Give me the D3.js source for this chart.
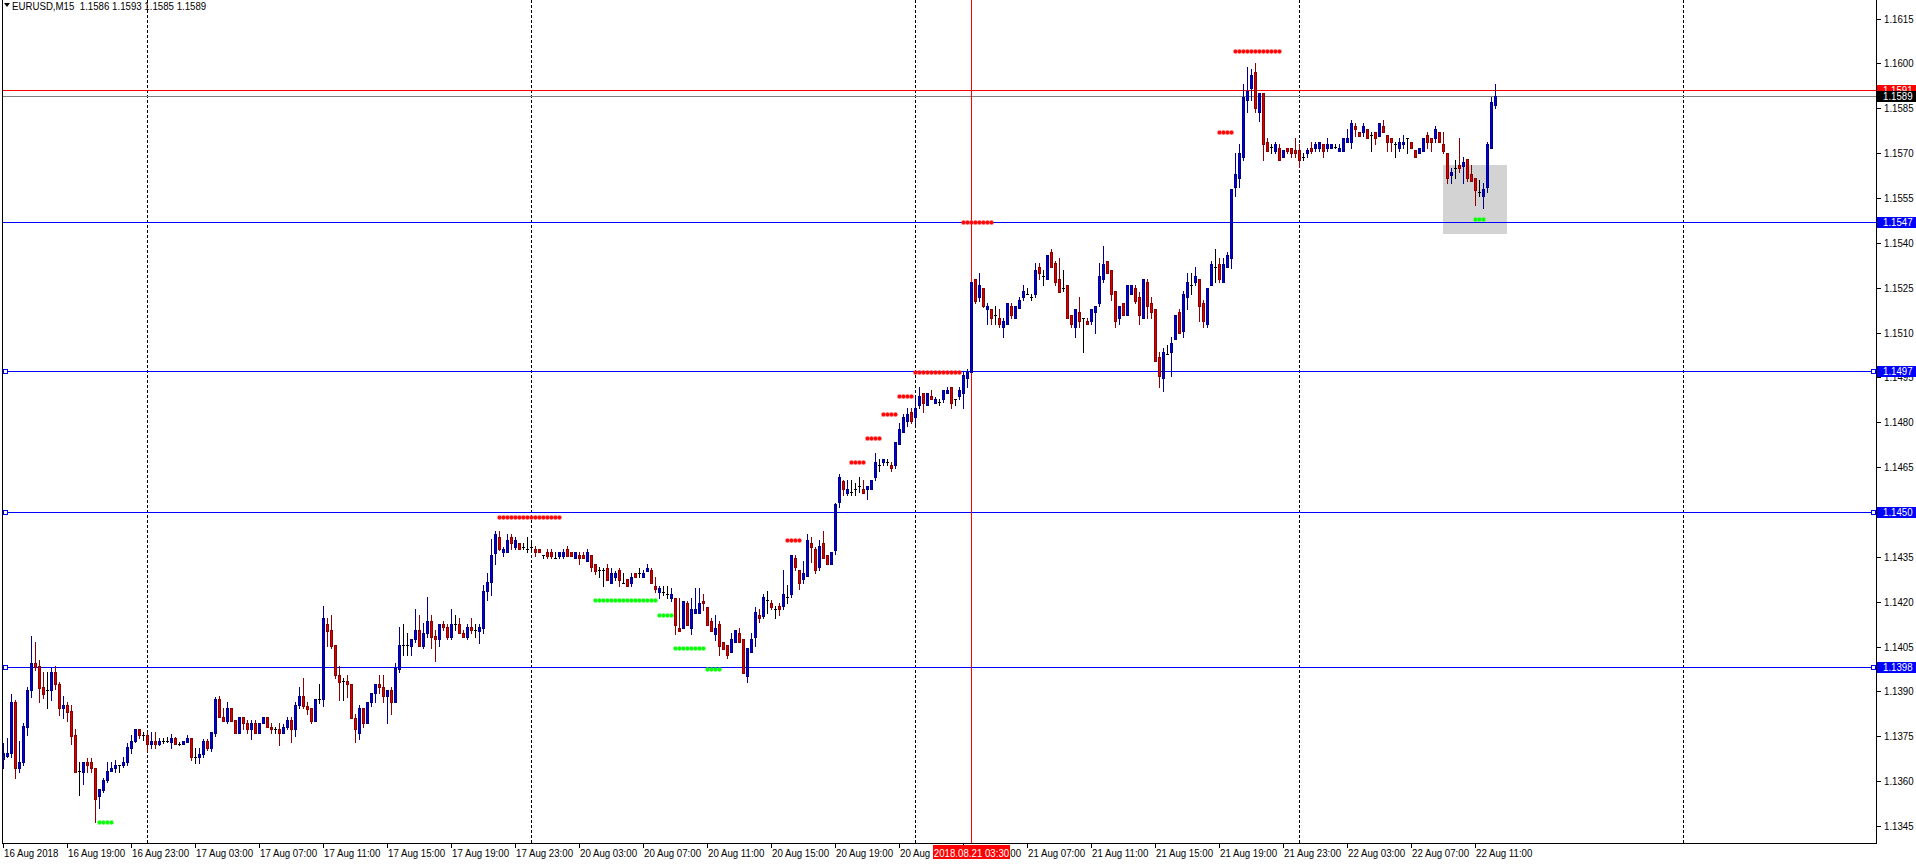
<!DOCTYPE html>
<html><head><meta charset="utf-8"><title>EURUSD,M15</title>
<script src="https://cdn.jsdelivr.net/npm/d3@7/dist/d3.min.js"></script>
<style>
html,body{margin:0;padding:0;background:#fff;overflow:hidden;}
svg{display:block;}
text{font-family:"Liberation Sans",Arial,sans-serif;font-size:11px;}
</style></head><body>
<svg id="chart" width="1916" height="864"></svg>
<script>
// ---------------- DATA ----------------
const symbolTitle = "EURUSD,M15";
const lastQuote = ["1.1586", "1.1593", "1.1585", "1.1589"];
const firstSlot = "2018-08-16 15:00";
const endSlotExclusive = "2018-08-23 12:15";

const openP = [
1.13673,1.13684,1.13693,1.13866,1.13643,1.13663,1.13782,1.13905,1.13994,1.13985,
1.13915,1.13905,1.13905,1.13966,1.13924,1.13843,1.13854,1.13834,1.13754,1.13634,
1.13631,1.13665,1.13665,1.13643,1.13551,1.13570,1.13604,1.13634,1.13643,1.13654,
1.13654,1.13663,1.13712,1.13734,1.13774,1.13754,1.13754,1.13723,1.13734,1.13723,
1.13734,1.13734,1.13732,1.13743,1.13723,1.13723,1.13732,1.13743,1.13680,1.13680,
1.13690,1.13734,1.13712,1.13762,1.13873,1.13813,1.13802,1.13843,1.13804,1.13762,
1.13813,1.13793,1.13773,1.13793,1.13762,1.13793,1.13813,1.13782,1.13773,1.13773,
1.13762,1.13782,1.13804,1.13773,1.13854,1.13885,1.13852,1.13843,1.13802,1.13873,
1.13873,1.14124,1.14105,1.14055,1.13955,1.13935,1.13935,1.13924,1.13812,1.13762,
1.13843,1.13793,1.13863,1.13894,1.13925,1.13914,1.13885,1.13905,1.13863,1.13975,
1.14055,1.14055,1.14053,1.14075,1.14105,1.14053,1.14094,1.14135,1.14085,1.14074,
1.14125,1.14114,1.14083,1.14125,1.14125,1.14094,1.14083,1.14114,1.14105,1.14103,
1.14113,1.14236,1.14265,1.14364,1.14416,1.14365,1.14365,1.14416,1.14384,1.14395,
1.14384,1.14376,1.14384,1.14376,1.14376,1.14356,1.14365,1.14365,1.14345,1.14354,
1.14354,1.14376,1.14365,1.14345,1.14356,1.14356,1.14336,1.14356,1.14325,1.14306,
1.14305,1.14314,1.14264,1.14284,1.14305,1.14264,1.14276,1.14264,1.14295,1.14295,
1.14284,1.14303,1.14305,1.14254,1.14234,1.14234,1.14225,1.14213,1.14213,1.14113,
1.14113,1.14194,1.14113,1.14163,1.14163,1.14203,1.14183,1.14135,1.14092,1.14124,
1.14064,1.14055,1.14033,1.14064,1.14094,1.14074,1.13953,1.14033,1.14083,1.14155,
1.14152,1.14205,1.14194,1.14174,1.14185,1.14185,1.14216,1.14225,1.14345,1.14306,
1.14275,1.14286,1.14395,1.14375,1.14315,1.14395,1.14356,1.14326,1.14373,1.14534,
1.14605,1.14564,1.14568,1.14576,1.14587,1.14576,1.14576,1.14576,1.14616,1.14657,
1.14666,1.14666,1.14657,1.14657,1.14727,1.14766,1.14805,1.14835,1.14816,1.14857,
1.14897,1.14857,1.14888,1.14865,1.14869,1.14877,1.14897,1.14917,1.14877,1.14888,
1.14897,1.14947,1.14969,1.15278,1.15218,1.15248,1.15177,1.15177,1.15159,1.15148,
1.15117,1.15127,1.15189,1.15148,1.15181,1.15218,1.15228,1.15220,1.15229,1.15320,
1.15289,1.15278,1.15370,1.15331,1.15278,1.15248,1.15259,1.15159,1.15117,1.15169,
1.15148,1.15139,1.15139,1.15169,1.15198,1.15278,1.15339,1.15309,1.15239,1.15148,
1.15198,1.15159,1.15228,1.15248,1.15220,1.15148,1.15268,1.15198,1.15177,1.15017,
1.14947,1.15028,1.15036,1.15077,1.15169,1.15106,1.15218,1.15259,1.15268,1.15278,
1.15198,1.15127,1.15259,1.15320,1.15329,1.15268,1.15318,1.15348,1.15588,1.15618,
1.15688,1.15877,1.15919,1.15970,1.15838,1.15900,1.15738,1.15721,1.15707,1.15718,
1.15688,1.15718,1.15718,1.15710,1.15710,1.15688,1.15699,1.15718,1.15718,1.15718,
1.15729,1.15718,1.15718,1.15721,1.15707,1.15707,1.15738,1.15738,1.15790,1.15769,
1.15769,1.15779,1.15760,1.15769,1.15758,1.15790,1.15760,1.15749,1.15729,1.15718,
1.15729,1.15749,1.15738,1.15710,1.15699,1.15707,1.15760,1.15749,1.15749,1.15769,
1.15729,1.15699,1.15627,1.15649,1.15660,1.15658,1.15679,1.15629,1.15618,1.15569,
1.15557,1.15588,1.15718,1.15860];

const highP = [
1.13726,1.13743,1.13893,1.13871,1.13734,1.13793,1.13916,1.14085,1.14066,1.14005,
1.13966,1.13966,1.13977,1.13985,1.13932,1.13885,1.13866,1.13854,1.13774,1.13665,
1.13665,1.13676,1.13676,1.13643,1.13574,1.13609,1.13665,1.13665,1.13670,1.13654,
1.13682,1.13726,1.13754,1.13774,1.13774,1.13765,1.13765,1.13765,1.13765,1.13743,
1.13743,1.13748,1.13756,1.13748,1.13732,1.13734,1.13754,1.13743,1.13712,1.13712,
1.13740,1.13740,1.13764,1.13882,1.13885,1.13843,1.13866,1.13843,1.13804,1.13813,
1.13813,1.13804,1.13804,1.13804,1.13793,1.13813,1.13813,1.13793,1.13782,1.13793,
1.13790,1.13813,1.13813,1.13863,1.13914,1.13945,1.13863,1.13843,1.13874,1.13925,
1.14186,1.14147,1.14155,1.14055,1.13985,1.13944,1.13955,1.13924,1.13823,1.13854,
1.13843,1.13863,1.13894,1.13925,1.13955,1.13955,1.13905,1.13914,1.13994,1.14114,
1.14124,1.14094,1.14075,1.14176,1.14155,1.14128,1.14217,1.14155,1.14105,1.14125,
1.14135,1.14125,1.14176,1.14155,1.14144,1.14105,1.14125,1.14144,1.14125,1.14125,
1.14256,1.14295,1.14410,1.14436,1.14436,1.14384,1.14426,1.14426,1.14416,1.14395,
1.14395,1.14416,1.14395,1.14386,1.14376,1.14356,1.14376,1.14376,1.14365,1.14365,
1.14376,1.14386,1.14365,1.14365,1.14365,1.14365,1.14376,1.14356,1.14325,1.14315,
1.14314,1.14325,1.14314,1.14303,1.14314,1.14295,1.14276,1.14295,1.14295,1.14314,
1.14305,1.14325,1.14314,1.14284,1.14254,1.14254,1.14254,1.14245,1.14213,1.14211,
1.14203,1.14203,1.14213,1.14245,1.14245,1.14225,1.14183,1.14144,1.14155,1.14135,
1.14064,1.14055,1.14094,1.14104,1.14113,1.14074,1.14044,1.14094,1.14183,1.14174,
1.14225,1.14235,1.14205,1.14185,1.14194,1.14306,1.14255,1.14356,1.14356,1.14306,
1.14336,1.14426,1.14415,1.14384,1.14406,1.14437,1.14356,1.14365,1.14529,1.14627,
1.14607,1.14607,1.14607,1.14596,1.14618,1.14607,1.14587,1.14607,1.14696,1.14676,
1.14676,1.14676,1.14666,1.14735,1.14796,1.14828,1.14847,1.14847,1.14886,1.14917,
1.14897,1.14897,1.14908,1.14886,1.14877,1.14908,1.14919,1.14917,1.14877,1.14919,
1.14969,1.14977,1.15270,1.15278,1.15300,1.15248,1.15200,1.15177,1.15189,1.15177,
1.15148,1.15200,1.15200,1.15189,1.15220,1.15259,1.15248,1.15228,1.15331,1.15331,
1.15309,1.15359,1.15379,1.15339,1.15350,1.15309,1.15259,1.15159,1.15177,1.15220,
1.15148,1.15148,1.15177,1.15189,1.15331,1.15389,1.15339,1.15309,1.15239,1.15189,
1.15198,1.15259,1.15259,1.15259,1.15237,1.15278,1.15278,1.15220,1.15177,1.15036,
1.15047,1.15058,1.15086,1.15159,1.15177,1.15239,1.15298,1.15298,1.15320,1.15278,
1.15209,1.15248,1.15339,1.15379,1.15350,1.15350,1.15370,1.15580,1.15699,1.15729,
1.15930,1.15989,1.15981,1.16000,1.15900,1.15900,1.15749,1.15729,1.15738,1.15729,
1.15710,1.15718,1.15718,1.15749,1.15729,1.15699,1.15718,1.15738,1.15738,1.15738,
1.15729,1.15749,1.15729,1.15729,1.15729,1.15749,1.15779,1.15811,1.15799,1.15769,
1.15799,1.15779,1.15769,1.15769,1.15799,1.15811,1.15760,1.15749,1.15738,1.15749,
1.15760,1.15749,1.15738,1.15710,1.15718,1.15749,1.15769,1.15749,1.15790,1.15769,
1.15769,1.15699,1.15649,1.15677,1.15749,1.15688,1.15679,1.15660,1.15618,1.15610,
1.15599,1.15738,1.15889,1.15930];

const lowP = [
1.13643,1.13682,1.13682,1.13611,1.13631,1.13654,1.13754,1.13882,1.13971,1.13863,
1.13877,1.13843,1.13871,1.13908,1.13821,1.13812,1.13801,1.13723,1.13631,1.13553,
1.13592,1.13631,1.13631,1.13462,1.13511,1.13563,1.13598,1.13634,1.13631,1.13631,
1.13648,1.13654,1.13693,1.13732,1.13743,1.13737,1.13701,1.13712,1.13712,1.13721,
1.13727,1.13732,1.13712,1.13723,1.13721,1.13723,1.13732,1.13670,1.13660,1.13660,
1.13680,1.13704,1.13700,1.13752,1.13813,1.13802,1.13793,1.13802,1.13762,1.13762,
1.13773,1.13762,1.13742,1.13762,1.13762,1.13793,1.13782,1.13762,1.13762,1.13722,
1.13762,1.13776,1.13732,1.13752,1.13843,1.13843,1.13823,1.13793,1.13802,1.13860,
1.13852,1.14052,1.14044,1.13944,1.13871,1.13871,1.13882,1.13812,1.13732,1.13742,
1.13782,1.13793,1.13852,1.13863,1.13894,1.13863,1.13793,1.13823,1.13863,1.13964,
1.14022,1.14022,1.14022,1.14066,1.14053,1.14044,1.14083,1.14044,1.14003,1.14053,
1.14105,1.14074,1.14074,1.14105,1.14094,1.14083,1.14074,1.14094,1.14083,1.14063,
1.14094,1.14206,1.14222,1.14325,1.14373,1.14354,1.14365,1.14375,1.14375,1.14375,
1.14375,1.14365,1.14375,1.14354,1.14365,1.14345,1.14345,1.14345,1.14345,1.14345,
1.14345,1.14354,1.14354,1.14345,1.14325,1.14345,1.14336,1.14303,1.14291,1.14284,
1.14254,1.14273,1.14264,1.14273,1.14254,1.14261,1.14254,1.14254,1.14284,1.14284,
1.14284,1.14303,1.14264,1.14234,1.14213,1.14222,1.14213,1.14202,1.14092,1.14102,
1.14113,1.14122,1.14092,1.14163,1.14163,1.14172,1.14122,1.14102,1.14072,1.14022,
1.14042,1.14011,1.14033,1.14064,1.14064,1.13963,1.13932,1.14033,1.14053,1.14133,
1.14144,1.14163,1.14174,1.14144,1.14155,1.14174,1.14194,1.14216,1.14306,1.14244,
1.14264,1.14286,1.14334,1.14295,1.14306,1.14345,1.14326,1.14326,1.14361,1.14515,
1.14557,1.14557,1.14557,1.14557,1.14568,1.14564,1.14545,1.14576,1.14607,1.14638,
1.14657,1.14657,1.14638,1.14646,1.14727,1.14766,1.14787,1.14796,1.14794,1.14847,
1.14835,1.14857,1.14877,1.14865,1.14857,1.14869,1.14897,1.14847,1.14858,1.14877,
1.14847,1.14919,1.14969,1.15200,1.15206,1.15186,1.15127,1.15127,1.15127,1.15117,
1.15086,1.15127,1.15148,1.15148,1.15181,1.15209,1.15228,1.15209,1.15220,1.15278,
1.15259,1.15278,1.15318,1.15259,1.15237,1.15239,1.15148,1.15117,1.15086,1.15117,
1.15036,1.15127,1.15127,1.15097,1.15189,1.15268,1.15298,1.15209,1.15117,1.15127,
1.15159,1.15159,1.15228,1.15198,1.15127,1.15148,1.15148,1.15148,1.15006,1.14917,
1.14905,1.15028,1.14956,1.15077,1.15097,1.15086,1.15177,1.15228,1.15259,1.15139,
1.15117,1.15117,1.15259,1.15268,1.15268,1.15268,1.15318,1.15317,1.15557,1.15588,
1.15677,1.15838,1.15877,1.15838,1.15807,1.15677,1.15707,1.15699,1.15699,1.15677,
1.15688,1.15699,1.15688,1.15688,1.15654,1.15677,1.15688,1.15699,1.15707,1.15707,
1.15688,1.15707,1.15718,1.15718,1.15707,1.15707,1.15738,1.15718,1.15758,1.15758,
1.15758,1.15749,1.15707,1.15729,1.15758,1.15769,1.15707,1.15707,1.15688,1.15707,
1.15718,1.15699,1.15718,1.15688,1.15699,1.15707,1.15718,1.15707,1.15738,1.15738,
1.15699,1.15599,1.15599,1.15618,1.15638,1.15599,1.15608,1.15608,1.15526,1.15557,
1.15517,1.15569,1.15718,1.15850];

const closeP = [
1.13693,1.13693,1.13866,1.13643,1.13665,1.13785,1.13905,1.13994,1.13983,1.13912,
1.13892,1.13905,1.13966,1.13924,1.13843,1.13854,1.13832,1.13752,1.13631,1.13634,
1.13665,1.13654,1.13643,1.13540,1.13574,1.13604,1.13634,1.13643,1.13654,1.13654,
1.13665,1.13715,1.13734,1.13774,1.13754,1.13754,1.13723,1.13734,1.13723,1.13734,
1.13734,1.13734,1.13743,1.13723,1.13723,1.13734,1.13743,1.13680,1.13680,1.13690,
1.13734,1.13712,1.13764,1.13873,1.13813,1.13802,1.13843,1.13802,1.13762,1.13813,
1.13793,1.13773,1.13793,1.13762,1.13793,1.13813,1.13782,1.13773,1.13773,1.13762,
1.13782,1.13804,1.13773,1.13854,1.13885,1.13852,1.13841,1.13802,1.13874,1.13873,
1.14144,1.14102,1.14052,1.13955,1.13933,1.13935,1.13924,1.13812,1.13773,1.13843,
1.13793,1.13863,1.13894,1.13925,1.13914,1.13885,1.13905,1.13863,1.13977,1.14055,
1.14055,1.14055,1.14075,1.14105,1.14053,1.14094,1.14135,1.14083,1.14074,1.14125,
1.14114,1.14083,1.14125,1.14125,1.14094,1.14083,1.14114,1.14105,1.14105,1.14114,
1.14236,1.14265,1.14356,1.14426,1.14375,1.14376,1.14406,1.14395,1.14406,1.14375,
1.14384,1.14376,1.14384,1.14365,1.14365,1.14356,1.14354,1.14354,1.14345,1.14365,
1.14365,1.14354,1.14354,1.14365,1.14345,1.14345,1.14365,1.14315,1.14303,1.14306,
1.14305,1.14273,1.14295,1.14295,1.14273,1.14264,1.14254,1.14284,1.14284,1.14295,
1.14295,1.14314,1.14264,1.14242,1.14245,1.14234,1.14225,1.14225,1.14122,1.14102,
1.14203,1.14122,1.14174,1.14174,1.14194,1.14194,1.14122,1.14102,1.14113,1.14053,
1.14042,1.14022,1.14074,1.14104,1.14064,1.13963,1.14044,1.14074,1.14164,1.14144,
1.14216,1.14205,1.14183,1.14174,1.14174,1.14225,1.14216,1.14356,1.14315,1.14264,
1.14295,1.14406,1.14384,1.14306,1.14386,1.14345,1.14326,1.14365,1.14526,1.14618,
1.14576,1.14576,1.14568,1.14576,1.14587,1.14564,1.14587,1.14607,1.14666,1.14657,
1.14676,1.14666,1.14646,1.14735,1.14776,1.14816,1.14828,1.14805,1.14847,1.14888,
1.14865,1.14897,1.14877,1.14877,1.14869,1.14908,1.14908,1.14865,1.14877,1.14908,
1.14958,1.14969,1.15270,1.15206,1.15259,1.15189,1.15189,1.15148,1.15159,1.15127,
1.15139,1.15200,1.15159,1.15189,1.15209,1.15239,1.15228,1.15220,1.15309,1.15298,
1.15289,1.15359,1.15318,1.15268,1.15237,1.15248,1.15148,1.15127,1.15177,1.15139,
1.15148,1.15127,1.15177,1.15189,1.15289,1.15329,1.15298,1.15228,1.15139,1.15189,
1.15159,1.15259,1.15259,1.15206,1.15159,1.15278,1.15189,1.15169,1.15006,1.14956,
1.15036,1.15028,1.15066,1.15159,1.15097,1.15229,1.15268,1.15259,1.15289,1.15189,
1.15139,1.15248,1.15329,1.15320,1.15278,1.15329,1.15359,1.15580,1.15629,1.15699,
1.15889,1.15909,1.15961,1.15850,1.15900,1.15729,1.15707,1.15721,1.15729,1.15677,
1.15710,1.15707,1.15699,1.15699,1.15677,1.15688,1.15710,1.15707,1.15729,1.15738,
1.15707,1.15729,1.15729,1.15721,1.15718,1.15749,1.15749,1.15799,1.15779,1.15758,
1.15790,1.15749,1.15760,1.15749,1.15799,1.15769,1.15738,1.15738,1.15729,1.15738,
1.15738,1.15749,1.15718,1.15688,1.15718,1.15749,1.15738,1.15738,1.15779,1.15738,
1.15707,1.15618,1.15638,1.15649,1.15649,1.15669,1.15618,1.15608,1.15576,1.15569,
1.15580,1.15729,1.15870,1.15890];

const priceTicks = [1.1345,1.1360,1.1375,1.1390,1.1405,1.1420,1.1435,1.1450,1.1465,1.1480,
  1.1495,1.1510,1.1525,1.1540,1.1555,1.1570,1.1585,1.1600,1.1615];

const timeTickTimes = ["2018-08-16 15:00","2018-08-16 19:00","2018-08-16 23:00","2018-08-17 03:00",
  "2018-08-17 07:00","2018-08-17 11:00","2018-08-17 15:00","2018-08-17 19:00","2018-08-17 23:00",
  "2018-08-20 03:00","2018-08-20 07:00","2018-08-20 11:00","2018-08-20 15:00","2018-08-20 19:00",
  "2018-08-20 23:00","2018-08-21 03:00","2018-08-21 07:00","2018-08-21 11:00","2018-08-21 15:00",
  "2018-08-21 19:00","2018-08-21 23:00","2018-08-22 03:00","2018-08-22 07:00","2018-08-22 11:00"];
const timeTickLabels = ["16 Aug 2018","16 Aug 19:00","16 Aug 23:00","17 Aug 03:00",
  "17 Aug 07:00","17 Aug 11:00","17 Aug 15:00","17 Aug 19:00","17 Aug 23:00",
  "20 Aug 03:00","20 Aug 07:00","20 Aug 11:00","20 Aug 15:00","20 Aug 19:00",
  "20 Aug 23:00","21 Aug 03:00","21 Aug 07:00","21 Aug 11:00","21 Aug 15:00",
  "21 Aug 19:00","21 Aug 23:00","22 Aug 03:00","22 Aug 07:00","22 Aug 11:00"];

const daySeparators = ["2018-08-17 00:00","2018-08-20 00:00","2018-08-21 00:00","2018-08-22 00:00","2018-08-23 00:00"];
const markerTime = "2018-08-21 03:30";
const markerLabel = "2018.08.21 03:30";

const levelPrices = [1.1547, 1.1497, 1.1450, 1.1398];
const levelLabels = ["1.1547", "1.1497", "1.1450", "1.1398"];
const levelHasMarkers = [false, true, true, true];
const askPrice = 1.1591, bidPrice = 1.1589;

// dotted resistance / support runs: start time, number of bars, price
const redDotStarts = ["2018-08-17 22:00","2018-08-20 16:00","2018-08-20 20:00","2018-08-20 21:00","2018-08-20 22:00",
  "2018-08-20 23:00","2018-08-21 00:00","2018-08-21 03:00","2018-08-21 19:00","2018-08-21 20:00"];
const redDotCounts = [16,4,4,4,4,4,12,8,4,12];
const redDotPrices = [1.14484,1.14405,1.14666,1.14746,1.14826,1.14887,1.14967,1.15468,1.15772,1.16041];
const greenDotStarts = ["2018-08-16 21:00","2018-08-20 04:00","2018-08-20 08:00","2018-08-20 09:00","2018-08-20 11:00","2018-08-22 11:00"];
const greenDotCounts = [4,16,4,8,4,3];
const greenDotPrices = [1.13462,1.14206,1.14154,1.14044,1.13974,1.15478];

const boxTimes = ["2018-08-22 09:00","2018-08-22 13:00"];
const boxPrices = [1.1566, 1.1543];

// ---------------- CHART ----------------
const svg = d3.select("#chart");
const W = 1916, H = 864, plotLeft = 2, plotRight = 1876, plotBottom = 843;
const FX = 0.88; // horizontal squeeze to mimic the narrow terminal font

const parse = d3.utcParse("%Y-%m-%d %H:%M");
const fmt = d3.utcFormat("%Y-%m-%d %H:%M");
const slots = d3.utcMinute.every(15).range(parse(firstSlot), parse(endSlotExclusive))
  .filter(d => d.getUTCDay() !== 0 && d.getUTCDay() !== 6).map(fmt);
const barTimes = slots.slice(0, openP.length);

const x = d3.scalePoint().domain(slots).range([3, 1875]);
const y = d3.scaleLinear().domain([1.1345, 1.1615]).range([826, 18.5]);
const px = v => Math.round(v);

function label(sel, tx, ty, txt, fill, anchor) {
  return sel.append("text")
    .attr("transform", `translate(${tx},${ty}) scale(${FX},1)`)
    .attr("text-anchor", anchor || "start")
    .attr("fill", fill).style("white-space", "pre").text(txt);
}

svg.append("rect").attr("width", W).attr("height", H).attr("fill", "#fff");

svg.append("defs").append("clipPath").attr("id", "plotclip")
  .append("rect").attr("x", plotLeft + 1).attr("y", 0).attr("width", plotRight - plotLeft - 1).attr("height", plotBottom);
const plot = svg.append("g").attr("clip-path", "url(#plotclip)");

// gray rectangle
plot.append("rect")
  .attr("x", px(x(boxTimes[0]))).attr("y", px(y(boxPrices[0])))
  .attr("width", px(x(boxTimes[1])) - px(x(boxTimes[0])))
  .attr("height", px(y(boxPrices[1])) - px(y(boxPrices[0])))
  .attr("fill", "#d3d3d3");

// day separators (dotted)
plot.selectAll("line.sep").data(daySeparators).join("line")
  .attr("x1", d => px(x(d)) + 0.5).attr("x2", d => px(x(d)) + 0.5)
  .attr("y1", 0).attr("y2", plotBottom)
  .attr("stroke", "#000").attr("stroke-width", 1).attr("stroke-dasharray", "3,2");

// horizontal levels
plot.selectAll("line.lvl").data(levelPrices).join("line")
  .attr("x1", 0).attr("x2", plotRight)
  .attr("y1", d => px(y(d)) + 0.5).attr("y2", d => px(y(d)) + 0.5)
  .attr("stroke", "#0000ff").attr("stroke-width", 1);
plot.append("line").attr("x1", 0).attr("x2", plotRight)
  .attr("y1", px(y(askPrice)) + 0.5).attr("y2", px(y(askPrice)) + 0.5)
  .attr("stroke", "#ff0000");
plot.append("line").attr("x1", 0).attr("x2", plotRight)
  .attr("y1", px(y(bidPrice)) + 0.5).attr("y2", px(y(bidPrice)) + 0.5)
  .attr("stroke", "#808080");

// vertical marker line
plot.append("line")
  .attr("x1", px(x(markerTime)) + 0.5).attr("x2", px(x(markerTime)) + 0.5)
  .attr("y1", 0).attr("y2", plotBottom).attr("stroke", "#ff0000");

// candles
const idx = d3.range(openP.length);
const colorOf = i => closeP[i] > openP[i] ? "bull" : (closeP[i] < openP[i] ? "bear" : "doji");
const wickCol = {bull: "#00008b", bear: "#8b0000", doji: "#000000"};
const edgeCol = {bull: "#00008b", bear: "#8b0000", doji: "#000000"};
const fillCol = {bull: "#0000d8", bear: "#d80000", doji: "#000000"};
const bodyTop = i => px(y(Math.max(openP[i], closeP[i])));
const bodyBot = i => px(y(Math.min(openP[i], closeP[i])));
const cg = plot.append("g").selectAll("g").data(idx).join("g");
cg.append("rect")
  .attr("x", i => px(x(barTimes[i])))
  .attr("y", i => px(y(highP[i])))
  .attr("width", 1)
  .attr("height", i => Math.max(1, px(y(lowP[i])) - px(y(highP[i])) + 1))
  .attr("fill", i => wickCol[colorOf(i)]);
cg.append("rect")
  .attr("x", i => px(x(barTimes[i])) - 1)
  .attr("y", bodyTop)
  .attr("width", 3)
  .attr("height", i => Math.max(1, bodyBot(i) - bodyTop(i) + 1))
  .attr("fill", i => edgeCol[colorOf(i)]);
cg.filter(i => bodyBot(i) - bodyTop(i) >= 2)
  .append("rect")
  .attr("x", i => px(x(barTimes[i])))
  .attr("y", i => bodyTop(i) + 1)
  .attr("width", 1)
  .attr("height", i => bodyBot(i) - bodyTop(i) - 1)
  .attr("fill", i => fillCol[colorOf(i)]);

// dots
function dotRuns(starts, counts, prices) {
  const out = [];
  starts.forEach((s, k) => {
    const j0 = slots.indexOf(s);
    for (let j = 0; j < counts[k]; j++) out.push({t: slots[j0 + j], p: prices[k]});
  });
  return out;
}
plot.append("g").selectAll("circle").data(dotRuns(redDotStarts, redDotCounts, redDotPrices)).join("circle")
  .attr("cx", d => px(x(d.t)) + 0.5).attr("cy", d => px(y(d.p)) + 0.5).attr("r", 1.9)
  .attr("fill", "#ff0000").attr("stroke", "rgba(255,60,60,0.45)").attr("stroke-width", 1.2);
plot.append("g").selectAll("circle").data(dotRuns(greenDotStarts, greenDotCounts, greenDotPrices)).join("circle")
  .attr("cx", d => px(x(d.t)) + 0.5).attr("cy", d => px(y(d.p)) + 0.5).attr("r", 1.9)
  .attr("fill", "#00ff00").attr("stroke", "rgba(60,255,60,0.45)").attr("stroke-width", 1.2);

// level end markers (small hollow squares)
const mk = levelPrices.filter((d, k) => levelHasMarkers[k]);
svg.selectAll("rect.mkl").data(mk).join("rect")
  .attr("x", 3.5).attr("y", d => px(y(d)) - 1.5).attr("width", 4).attr("height", 4)
  .attr("fill", "#fff").attr("stroke", "#0000ff");
svg.selectAll("rect.mkr").data(mk).join("rect")
  .attr("x", 1871.5).attr("y", d => px(y(d)) - 1.5).attr("width", 4).attr("height", 4)
  .attr("fill", "#fff").attr("stroke", "#0000ff");

// frame
svg.append("line").attr("x1", plotLeft + 0.5).attr("x2", plotLeft + 0.5).attr("y1", 0).attr("y2", plotBottom + 1).attr("stroke", "#000");
svg.append("line").attr("x1", plotRight + 0.5).attr("x2", plotRight + 0.5).attr("y1", 0).attr("y2", plotBottom + 1).attr("stroke", "#000");
svg.append("line").attr("x1", plotLeft).attr("x2", plotRight + 1).attr("y1", plotBottom + 0.5).attr("y2", plotBottom + 0.5).attr("stroke", "#000");

// price axis
const pa = svg.append("g");
pa.selectAll("line").data(priceTicks).join("line")
  .attr("x1", plotRight + 1).attr("x2", plotRight + 5)
  .attr("y1", d => px(y(d)) + 0.5).attr("y2", d => px(y(d)) + 0.5).attr("stroke", "#000");
priceTicks.forEach(p => label(pa, 1884, px(y(p)) + 4, d3.format(".4f")(p), "#000"));

// price boxes
function priceBox(p, txt, bg) {
  const yc = px(y(p));
  svg.append("rect").attr("x", 1877).attr("y", yc - 5).attr("width", 39).attr("height", 11).attr("fill", bg);
  label(svg, 1883, yc + 4, txt, "#fff");
}
levelPrices.forEach((p, k) => priceBox(p, levelLabels[k], "#0000ff"));
priceBox(askPrice, d3.format(".4f")(askPrice), "#ff0000");
priceBox(bidPrice, d3.format(".4f")(bidPrice), "#000000");

// time axis
const ta = svg.append("g");
ta.selectAll("line").data(timeTickTimes).join("line")
  .attr("x1", d => px(x(d)) + 0.5).attr("x2", d => px(x(d)) + 0.5)
  .attr("y1", plotBottom + 1).attr("y2", plotBottom + 5).attr("stroke", "#000");
timeTickTimes.forEach((t, k) => label(ta, px(x(t)) + 1, 857, timeTickLabels[k], "#000"));

// red marker label
const mx = px(x(markerTime));
svg.append("rect").attr("x", mx - 38).attr("y", plotBottom + 2).attr("width", 77).attr("height", 14).attr("fill", "#ff0000");
label(svg, mx + 0.5, 857, markerLabel, "#fff", "middle");

// header
svg.append("path").attr("d", "M4,3 L10,3 L7,7 Z").attr("fill", "#000");
label(svg, 12, 10, symbolTitle + "  " + lastQuote.join(" "), "#000");
</script>
</body></html>
